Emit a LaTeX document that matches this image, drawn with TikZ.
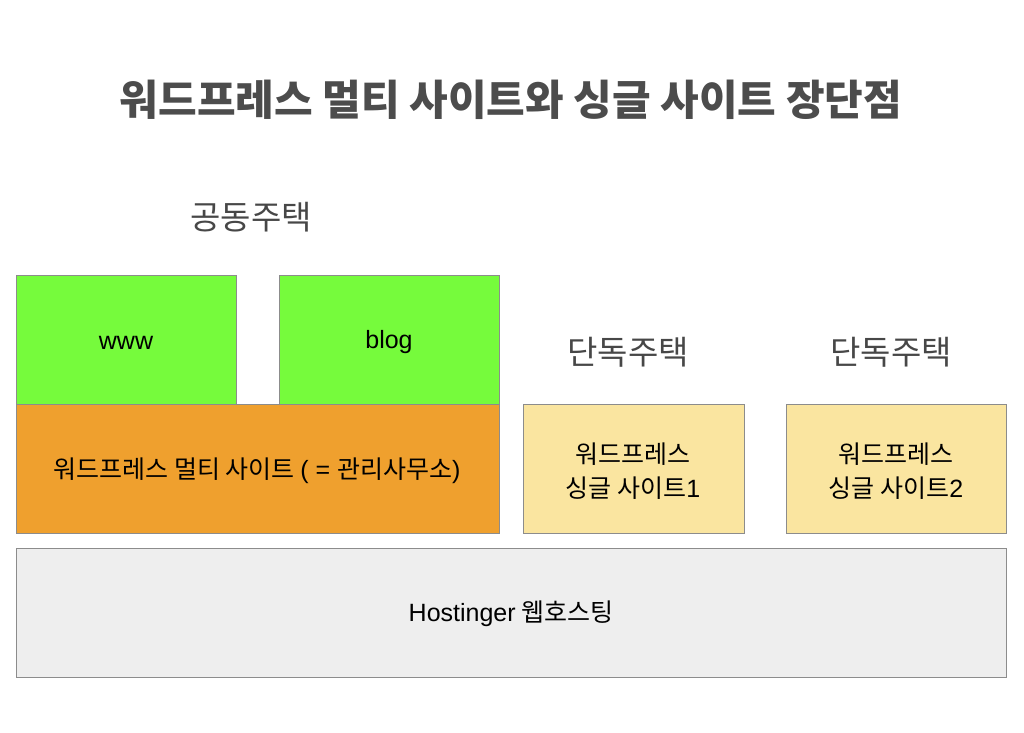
\documentclass[tikz,border=0pt]{standalone}
\usepackage{fontspec}
\setmainfont{Noto Sans CJK KR}
\newfontfamily\lat{Liberation Sans}
\begin{document}
\begin{tikzpicture}[x=1pt,y=-1pt,
  box/.style={draw=black!45,line width=1pt},
  lbl/.style={font=\fontsize{25}{34}\selectfont,text=black,align=center},
  head/.style={font=\fontsize{33}{38}\selectfont,text=black!72}]
\useasboundingbox (0,0) rectangle (1024,732);
\definecolor{cgreen}{RGB}{118,251,60}
\definecolor{corange}{RGB}{239,160,46}
\definecolor{cyellow}{RGB}{250,229,160}
\definecolor{cgray}{RGB}{238,238,238}
\node[font=\bfseries\fontsize{42}{48}\selectfont,text=black!70] (title) at (511,100) {워드프레스 멀티 사이트와 싱글 사이트 장단점};
\node[head] (h1) at (251,217) {공동주택};
\node[head] (h2) at (628,352) {단독주택};
\node[head] (h3) at (891,352) {단독주택};
\draw[box,fill=cgray] (16,548) rectangle (1006,677);
\node[lbl] (host) at (511,614) {{\lat Hostinger} 웹호스팅};
\draw[box,fill=cgreen] (16,275) rectangle (236,404);
\node[lbl,font=\lat\fontsize{25}{30}\selectfont] (www) at (126,343) {www};
\draw[box,fill=cgreen] (279,275) rectangle (499,404);
\node[lbl,font=\lat\fontsize{25}{30}\selectfont] (blog) at (389,342) {blog};
\draw[box,fill=corange] (16,404) rectangle (499,533);
\node[lbl] (multi) at (257,471) {워드프레스 멀티 사이트 {\lat ( = }관리사무소{\lat )}};
\draw[box,fill=cyellow] (523,404) rectangle (744,533);
\node[lbl] (s1) at (633,471) {워드프레스\\싱글 사이트{\lat 1}};
\draw[box,fill=cyellow] (786,404) rectangle (1006,533);
\node[lbl] (s2) at (896,471) {워드프레스\\싱글 사이트{\lat 2}};
\end{tikzpicture}
\end{document}
